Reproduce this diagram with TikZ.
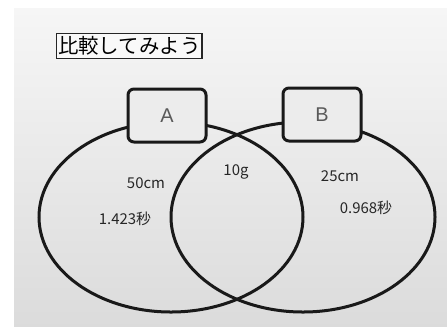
\documentclass[tikz,border=0pt]{standalone}
\usepackage{fontspec}
\newfontfamily\jpfont{Noto Sans CJK JP}
\setmainfont{Liberation Sans}
\begin{document}
\begin{tikzpicture}[x=1bp,y=-1bp,
  ring/.style={line width=3bp,draw=black!90},
  label/.style={rounded corners=6bp,line width=3bp,draw=black!90,fill=gray!15,minimum width=78bp,minimum height=53bp,inner sep=0pt},
  hand/.style={font=\jpfont\fontsize{15}{15}\selectfont,text=black!85,inner sep=0pt}]
\useasboundingbox (0,0) rectangle (447,326);
\fill[white] (0,0) rectangle (447,326);
\shade[top color=gray!7,bottom color=gray!28] (14,8) rectangle (447,326);
% ellipses
\draw[ring] (171,217) ellipse [x radius=132, y radius=95];
\draw[ring] (303,217) ellipse [x radius=132, y radius=95];
% title
\node[draw=black!85,line width=1.3bp,fill=gray!5,inner xsep=1.5bp,inner ysep=3bp,anchor=west,font=\jpfont\fontsize{20.5}{20.5}\selectfont] (title) at (56,46) {比較してみよう};
% set labels
\node[label] (A) at (167,115.5) {\fontsize{20}{20}\selectfont\color{black!65}A};
\node[label] (B) at (322,114.5) {\fontsize{20}{20}\selectfont\color{black!65}B};
% contents
\node[hand] (a1) at (146,183) {50cm};
\node[hand] (a2) at (125,219) {1.423秒};
\node[hand] (c) at (236,172) {10g};
\node[hand] (b1) at (340,176) {25cm};
\node[hand] (b2) at (366,208) {0.968秒};
\end{tikzpicture}
\end{document}
